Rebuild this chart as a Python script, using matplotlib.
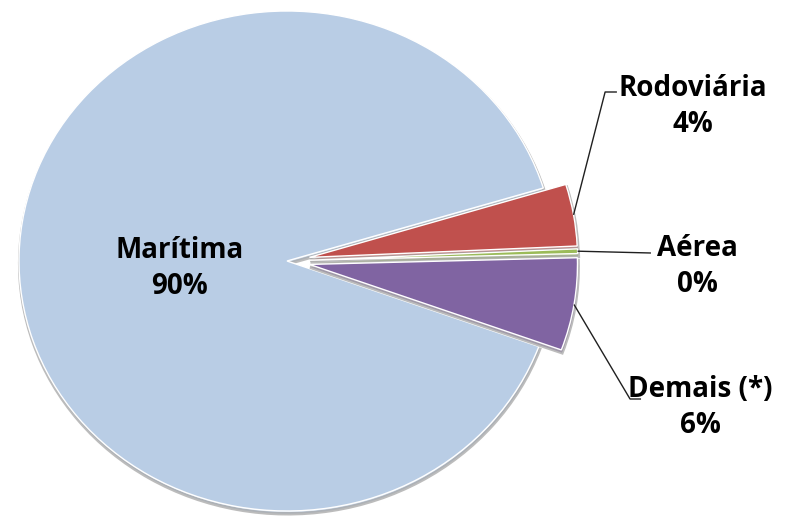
import matplotlib
matplotlib.use("Agg")
import matplotlib.pyplot as plt
import matplotlib.patheffects as pe
import numpy as np

# Modal split data
categories = ["Marítima", "Rodoviária", "Aérea", "Demais (*)"]
shares = [90.0, 4.0, 0.3, 6.0]
colors = ["#B9CDE5", "#C0504D", "#9BBB59", "#8064A2"]
explode = [0.0, 0.085, 0.085, 0.085]

plt.rcParams["font.family"] = ["Open Sans", "DejaVu Sans"]

fig = plt.figure(figsize=(8.05, 5.16), dpi=100)
ax = fig.add_axes([0, 0, 1, 1])

wedges, _ = ax.pie(
    shares, colors=colors, explode=explode, startangle=-20,
    counterclock=False, radius=1.0,
    wedgeprops=dict(edgecolor="white", linewidth=1.0),
)

shadow = [pe.Stroke(offset=(0.5, -2.0), linewidth=2.5, foreground="#a0a0a0", alpha=0.7),
          pe.Normal()]
for w in wedges:
    w.set_path_effects(shadow)
wedges[0].set_zorder(1)
for w in wedges[1:]:
    w.set_zorder(2)

total = sum(shares)
labels = [f"{c}\n{round(v / total * 100):.0f}%" for c, v in zip(categories, shares)]
txt = dict(fontsize=20, fontweight="bold", color="black", ha="center", va="center",
           linespacing=1.3, zorder=5)

# Label inside the large slice
ax.text(-0.40, -0.03, labels[0], **txt)

# Outside labels with leader lines: (label centre, elbow point, line end)
outside = {
    1: ((1.515, 0.618), (1.187, 0.676), (1.231, 0.676)),
    2: ((1.530, -0.022), None, (1.358, 0.032)),
    3: ((1.541, -0.586), (1.280, -0.552), (1.321, -0.552)),
}
for i, (lab_xy, elbow, end) in outside.items():
    w = wedges[i]
    mid = np.deg2rad((w.theta1 + w.theta2) / 2)
    cx, cy = w.center
    start = (cx + w.r * np.cos(mid), cy + w.r * np.sin(mid))
    pts = [start] + ([elbow] if elbow else []) + [end]
    xs, ys = zip(*pts)
    ax.plot(xs, ys, color="#202020", lw=1.0, zorder=4, solid_capstyle="butt")
    ax.text(lab_xy[0], lab_xy[1], labels[i], **txt)

# The plot area is wider than tall, so the pie is drawn slightly stretched
ax.set_xlim(-287 / 268, (805 - 287) / 268)
ax.set_ylim(-(516 - 261) / 250, 261 / 250)
ax.set_aspect("auto")
ax.axis("off")

fig.savefig("out.png", dpi=100, facecolor="white")
